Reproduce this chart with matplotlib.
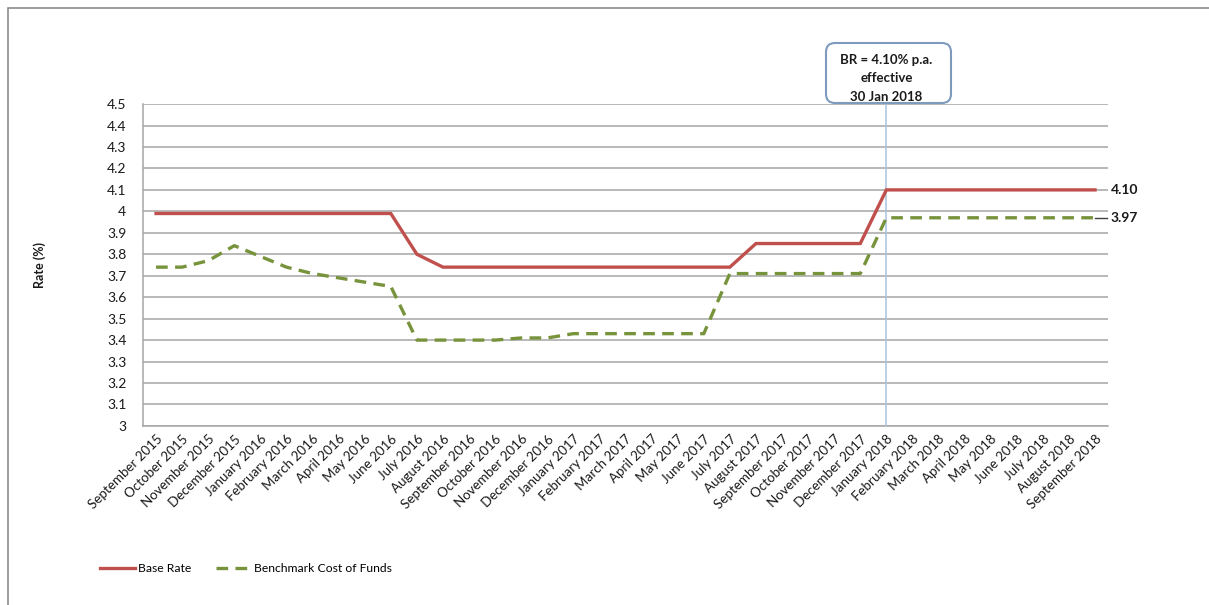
"""
Base Rate vs Benchmark Cost of Funds, Sep 2015 - Sep 2018
"""

import matplotlib
matplotlib.use("Agg")
import matplotlib.pyplot as plt
from matplotlib.patches import FancyBboxPatch, Rectangle
from matplotlib.lines import Line2D
from matplotlib.transforms import IdentityTransform, blended_transform_factory


# -------------------------------------------------
# Data
# -------------------------------------------------

months = [
    "September 2015", "October 2015", "November 2015", "December 2015",
    "January 2016", "February 2016", "March 2016", "April 2016", "May 2016",
    "June 2016", "July 2016", "August 2016", "September 2016", "October 2016",
    "November 2016", "December 2016", "January 2017", "February 2017",
    "March 2017", "April 2017", "May 2017", "June 2017", "July 2017",
    "August 2017", "September 2017", "October 2017", "November 2017",
    "December 2017", "January 2018", "February 2018", "March 2018",
    "April 2018", "May 2018", "June 2018", "July 2018", "August 2018",
    "September 2018",
]

base_rate = [
    3.99, 3.99, 3.99, 3.99, 3.99, 3.99, 3.99, 3.99, 3.99, 3.99,
    3.80, 3.74, 3.74, 3.74, 3.74, 3.74, 3.74, 3.74, 3.74, 3.74,
    3.74, 3.74, 3.74, 3.85, 3.85, 3.85, 3.85, 3.85, 4.10, 4.10,
    4.10, 4.10, 4.10, 4.10, 4.10, 4.10, 4.10,
]

benchmark_cof = [
    3.74, 3.74, 3.77, 3.84, 3.79, 3.74, 3.71, 3.69, 3.67, 3.65,
    3.40, 3.40, 3.40, 3.40, 3.41, 3.41, 3.43, 3.43, 3.43, 3.43,
    3.43, 3.43, 3.71, 3.71, 3.71, 3.71, 3.71, 3.71, 3.97, 3.97,
    3.97, 3.97, 3.97, 3.97, 3.97, 3.97, 3.97,
]

y_ticks = [3.0, 3.1, 3.2, 3.3, 3.4, 3.5, 3.6, 3.7, 3.8, 3.9,
           4.0, 4.1, 4.2, 4.3, 4.4, 4.5]
y_tick_labels = ["3", "3.1", "3.2", "3.3", "3.4", "3.5", "3.6", "3.7", "3.8",
                 "3.9", "4", "4.1", "4.2", "4.3", "4.4", "4.5"]

event_month = "January 2018"
event_text = "BR = 4.10% p.a.\neffective\n30 Jan 2018"

# -------------------------------------------------
# Styling
# -------------------------------------------------

RED = "#C0504D"
GREEN = "#77933C"
GRID = "#A6A6A6"
VLINE = "#A9C2DE"
BOX_EDGE = "#7E9BBD"
TEXT = "#1A1A1A"

plt.rcParams["font.family"] = ["Lato", "DejaVu Sans"]
plt.rcParams["font.size"] = 9.5

fig = plt.figure(figsize=(12.09, 6.05), dpi=100)
ax = fig.add_axes([0.1183, 0.296, 0.7982, 0.532])

x = list(range(len(months)))

ax.plot(x, base_rate, color=RED, lw=2.4, solid_joinstyle="miter", zorder=4)
ax.plot(x, benchmark_cof, color=GREEN, lw=2.4, dashes=(3.5, 2.2), zorder=4)

# vertical marker for the effective date
ev = months.index(event_month)
ax.axvline(ev, color=VLINE, lw=1.1, zorder=3)

ax.set_xlim(-0.5, len(months) - 0.5)
ax.set_ylim(3.0, 4.5)
ax.set_yticks(y_ticks)
ax.set_yticklabels(y_tick_labels, color=TEXT, fontsize=10)
ax.yaxis.grid(True, color=GRID, lw=1.1, zorder=1)
ax.set_axisbelow(True)

ax.set_xticks(x)
ax.set_xticklabels(months, rotation=45, ha="right", rotation_mode="anchor",
                   color=TEXT, fontsize=9.6)
ax.tick_params(axis="x", length=0, pad=5)
ax.tick_params(axis="y", length=0, pad=12)

for side in ["top", "right"]:
    ax.spines[side].set_visible(False)
ax.spines["left"].set_color(GRID)
ax.spines["bottom"].set_color(GRID)
ax.spines["left"].set_linewidth(1.1)
ax.spines["bottom"].set_linewidth(1.1)

ax.set_ylabel("Rate (%)", fontweight="bold", fontsize=9, color=TEXT,
              labelpad=44)

# end-of-series labels
last = len(months) - 1
ax.text(last + 0.6, base_rate[-1], f"{base_rate[-1]:.2f}", va="center",
        ha="left", fontweight="bold", color=TEXT, fontsize=10)
ax.plot([last, last + 0.45], [benchmark_cof[-1]] * 2, color="#404040",
        lw=1.0, zorder=5, clip_on=False)
ax.text(last + 0.6, benchmark_cof[-1], f"{benchmark_cof[-1]:.2f}",
        va="center", ha="left", fontweight="bold", color=TEXT, fontsize=10)

# callout box above the vertical line (pixel coords)
px = IdentityTransform()
box = FancyBboxPatch((826, 605 - 103), 125, 60,
                     boxstyle="round,pad=0,rounding_size=9",
                     transform=px, facecolor="white", edgecolor=BOX_EDGE,
                     lw=1.5, zorder=6)
fig.patches.append(box)
trans = blended_transform_factory(ax.transData, ax.transAxes)
fig.text(ev, 1.0 + 26 / 322, event_text, transform=trans, ha="center",
         va="center", fontweight="bold", fontsize=9.5, linespacing=1.65,
         color=TEXT, zorder=8)

# chart border
fig.patches.append(Rectangle((8, -5), 1210, 605 - 8 + 5, transform=px,
                             facecolor="none", edgecolor="#8C8C8C", lw=1.2))

# legend
handles = [
    Line2D([], [], color=RED, lw=2.4),
    Line2D([], [], color=GREEN, lw=2.4, dashes=(3.5, 2.2)),
]
fig.legend(handles, ["Base Rate", "Benchmark Cost of Funds"],
           loc="center left", bbox_to_anchor=(0.074, 0.06), ncol=2,
           frameon=False, handlelength=2.9, handletextpad=0.25,
           columnspacing=2.0, fontsize=8.7)

fig.savefig("out.png", dpi=100)
